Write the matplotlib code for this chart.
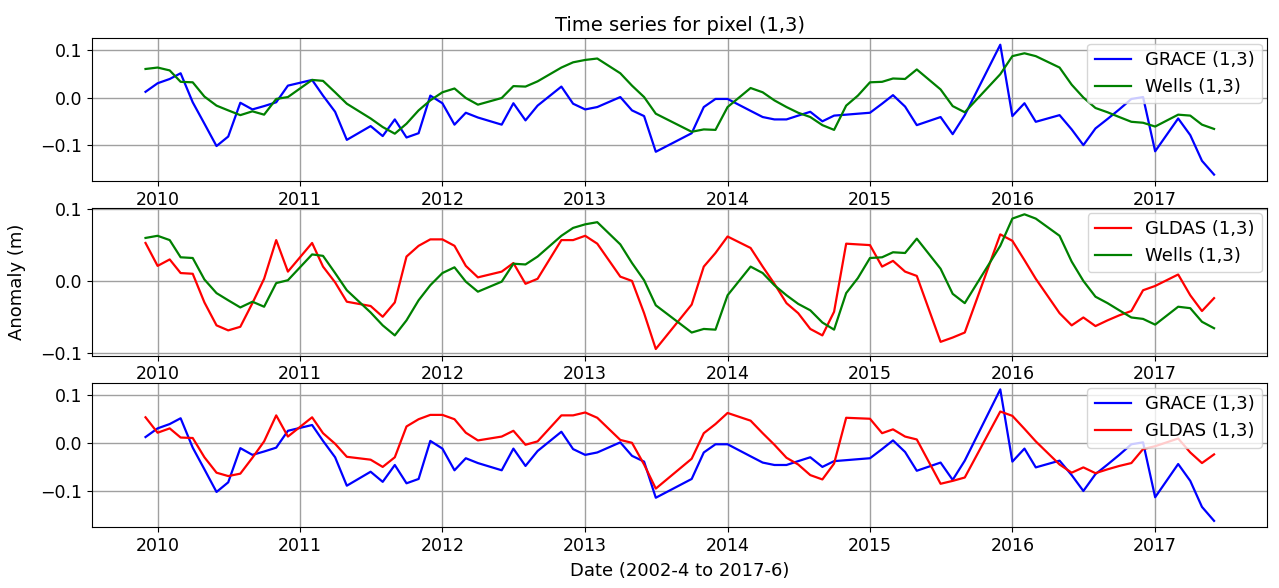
import pandas as pd
import matplotlib
matplotlib.use('Agg')
from matplotlib import pyplot as plt

# monthly anomalies (m) for pixel (1,3); months without GRACE data are skipped
months = ['2009-12',
          '2010-01', '2010-02', '2010-03', '2010-04', '2010-05', '2010-06',
          '2010-07', '2010-08', '2010-09', '2010-10', '2010-11', '2010-12',
          '2011-02', '2011-03', '2011-04', '2011-05', '2011-07', '2011-08',
          '2011-09', '2011-10', '2011-11', '2011-12',
          '2012-01', '2012-02', '2012-03', '2012-04', '2012-06', '2012-07',
          '2012-08', '2012-09', '2012-11', '2012-12',
          '2013-01', '2013-02', '2013-04', '2013-05', '2013-06', '2013-07',
          '2013-10', '2013-11', '2013-12',
          '2014-01', '2014-03', '2014-04', '2014-05', '2014-06', '2014-07',
          '2014-08', '2014-09', '2014-10', '2014-11', '2014-12',
          '2015-01', '2015-02', '2015-03', '2015-04', '2015-05', '2015-07',
          '2015-08', '2015-09', '2015-12',
          '2016-01', '2016-02', '2016-03', '2016-05', '2016-06', '2016-07',
          '2016-08', '2016-09', '2016-10', '2016-11', '2016-12',
          '2017-01', '2017-03', '2017-04', '2017-05', '2017-06']

grace = [0.012,
         0.030, 0.039, 0.051, -0.010, -0.055, -0.102,
         -0.082, -0.011, -0.025, -0.018, -0.010, 0.025,
         0.037, 0.004, -0.030, -0.089, -0.060, -0.081,
         -0.046, -0.084, -0.075, 0.004,
         -0.012, -0.057, -0.032, -0.042, -0.057, -0.012,
         -0.048, -0.017, 0.023, -0.013,
         -0.025, -0.020, 0.001, -0.027, -0.039, -0.114,
         -0.075, -0.020, -0.003,
         -0.003, -0.028, -0.041, -0.046, -0.046, -0.038,
         -0.030, -0.050, -0.038, -0.036, -0.034,
         -0.032, -0.013, 0.005, -0.019, -0.058, -0.041,
         -0.077, -0.037, 0.111,
         -0.039, -0.012, -0.051, -0.037, -0.067, -0.100,
         -0.065, -0.045, -0.025, -0.003, 0.001,
         -0.113, -0.044, -0.079, -0.133, -0.162]

wells = [0.060,
         0.063, 0.057, 0.033, 0.032, 0.002, -0.017,
         -0.027, -0.037, -0.029, -0.036, -0.003, 0.001,
         0.037, 0.035, 0.011, -0.013, -0.044, -0.062,
         -0.076, -0.055, -0.027, -0.006,
         0.011, 0.019, -0.001, -0.015, -0.001, 0.024,
         0.023, 0.034, 0.063, 0.074,
         0.079, 0.082, 0.051, 0.025, 0.001, -0.034,
         -0.072, -0.067, -0.068,
         -0.020, 0.020, 0.011, -0.006, -0.020, -0.032,
         -0.041, -0.058, -0.068, -0.017, 0.004,
         0.032, 0.033, 0.040, 0.039, 0.059, 0.017,
         -0.018, -0.031, 0.049,
         0.087, 0.093, 0.087, 0.063, 0.027, 0.000,
         -0.022, -0.031, -0.041, -0.051, -0.053,
         -0.061, -0.036, -0.038, -0.057, -0.066]

gldas = [0.053,
         0.021, 0.030, 0.011, 0.010, -0.030, -0.062,
         -0.069, -0.064, -0.031, 0.003, 0.057, 0.013,
         0.053, 0.020, -0.002, -0.029, -0.035, -0.050,
         -0.030, 0.034, 0.049, 0.058,
         0.058, 0.049, 0.021, 0.005, 0.013, 0.025,
         -0.004, 0.003, 0.057, 0.057,
         0.063, 0.052, 0.006, 0.000, -0.045, -0.095,
         -0.033, 0.020, 0.039,
         0.062, 0.046, 0.020, -0.004, -0.031, -0.045,
         -0.067, -0.076, -0.043, 0.052, 0.051,
         0.050, 0.020, 0.028, 0.013, 0.007, -0.085,
         -0.079, -0.072, 0.065,
         0.056, 0.029, 0.003, -0.045, -0.062, -0.051,
         -0.063, -0.055, -0.048, -0.042, -0.013,
         -0.007, 0.009, -0.020, -0.042, -0.024]

dates = pd.to_datetime(months)

plt.rcParams['font.size'] = 12.5

fig = plt.figure(figsize=(12.79, 5.88), dpi=100)
left, width = 0.072, 0.919
ax1 = fig.add_axes([left, 0.692, width, 0.243])
ax2 = fig.add_axes([left, 0.395, width, 0.252])
ax3 = fig.add_axes([left, 0.103, width, 0.246])

ax1.plot(dates, grace, color='b', lw=1.6, label='GRACE (1,3)')
ax1.plot(dates, wells, color='g', lw=1.6, label='Wells (1,3)')
ax1.set_title('Time series for pixel (1,3)', fontsize=14, pad=5)

ax2.plot(dates, gldas, color='r', lw=1.6, label='GLDAS (1,3)')
ax2.plot(dates, wells, color='g', lw=1.6, label='Wells (1,3)')

ax3.plot(dates, grace, color='b', lw=1.6, label='GRACE (1,3)')
ax3.plot(dates, gldas, color='r', lw=1.6, label='GLDAS (1,3)')
ax3.set_xlabel('Date (2002-4 to 2017-6)', fontsize=13, labelpad=5)

for ax in (ax1, ax2, ax3):
    ax.grid(True, color='#a0a0a0', lw=1.0)
    ax.legend(loc='upper right', fontsize=13, borderaxespad=0.3)
    ax.set_yticks([-0.1, 0.0, 0.1])
    ax.tick_params(labelsize=12.5)

fig.text(0.013, 0.52, 'Anomaly (m)', rotation=90, va='center', ha='center', fontsize=13)

plt.savefig('out.png', dpi=100)
